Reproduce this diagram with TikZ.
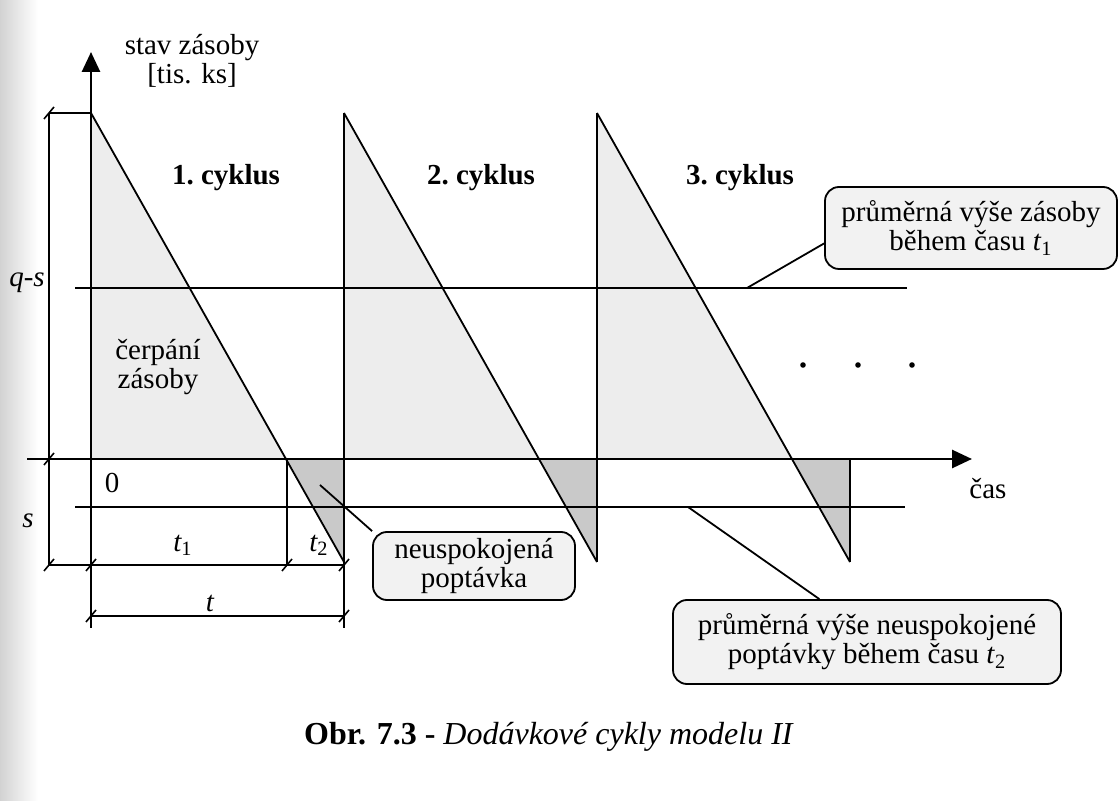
\documentclass[tikz,border=0pt]{standalone}
\usepackage{fontspec}
\setmainfont{Liberation Serif}
\usetikzlibrary{arrows.meta}
\usetikzlibrary{positioning}
\newcommand{\figfont}{\fontsize{14.5}{14.5}\selectfont}
\newcommand{\tightfont}{\fontsize{14.5}{12.5}\selectfont}
\tikzset{x=0.5pt, y=-0.5pt,
    axis/.style={
        line width=1.4pt,
        -{Triangle[length=10pt,width=9pt]}},
    saw/.style={line width=0.9pt},
    guide/.style={line width=0.7pt},
    stockfill/.style={fill=gray!14},
    shortfill/.style={fill=gray!42},
    cycletext/.style={font=\figfont\bfseries},
    plaintext/.style={font=\figfont, inner sep=1pt},
    italictext/.style={font=\figfont\itshape, inner sep=1pt},
    callout/.style={
        draw,
        line width=0.9pt,
        fill=gray!10,
        rounded corners=7pt,
        align=center,
        font=\figfont},
    dimtick/.style={line width=0.8pt}}

\begin{document}
\begin{tikzpicture}
    \useasboundingbox (0,0) rectangle (1120,801);
    % edge of the scanned page
    \shade[left color=gray!35, right color=white] (0,0) rectangle (38,801);

    % shaded areas of the three cycles
    \foreach \x in {91,344,597}{
        \fill[stockfill] (\x,113) -- (\x,459) -- (\x+196,459) -- cycle;
        \fill[shortfill] (\x+196,459) -- (\x+253,459) -- (\x+253,562) -- cycle;
    }

    % levels q-s and s
    \draw[guide] (75,288) -- (907,288);
    \draw[guide] (75,507) -- (905,507);

    % sawtooth
    \foreach \x in {91,344,597}{
        \draw[saw] (\x,113) -- (\x+253,562);
    }
    \draw[saw] (344,113) -- (344,628);
    \draw[saw] (597,113) -- (597,562);
    \draw[saw] (850,459) -- (850,562);

    % dimensions
    \draw[guide] (49,113) -- (91,113);
    \draw[guide] (49,113) -- (49,565);
    \draw[guide] (49,565) -- (344,565);
    \draw[guide] (287,459) -- (287,565);
    \draw[guide] (91,459) -- (91,628);
    \draw[guide] (91,616) -- (344,616);
    \foreach \p in {(49,113),(49,459),(49,565),(91,565),(287,565),(344,565),(91,616),(344,616)}{
        \draw[dimtick] \p ++(-5,6) -- ++(10,-12);
    }

    % axes
    \coordinate (xstart) at (27,459);
    \coordinate (xend) at (972,459);
    \coordinate (ystart) at (91,459);
    \coordinate (yend) at (91,52);
    \draw[axis] (xstart) -- (xend);
    \draw[axis] (ystart) -- (yend);

    % labels
    \node[plaintext, align=center, font=\tightfont] (ylabel) at (192,61) {stav zásoby\\{[}tis. ks{]}};
    \node[plaintext] (xlabel) at (988,489) {čas};
    \node[plaintext] (origin) at (112,483) {0};
    \node[italictext] (qslabel) at (27,283) {q-s};
    \node[italictext] (slabel) at (28,521) {s};
    \node[italictext] (t1label) at (183,545) {t\textsubscript{\upshape 1}};
    \node[italictext] (t2label) at (319,545) {t\textsubscript{\upshape 2}};
    \node[italictext] (tlabel) at (210,603) {t};
    \node[plaintext, align=center, font=\tightfont] (drain) at (158,367) {čerpání\\zásoby};
    \foreach \x [count=\i] in {226,481,740}{
        \node[cycletext] (cycle\i) at (\x,178) {\i.~cyklus};
    }
    \foreach \x in {803,858,912}{
        \fill (\x,365) circle (1.4pt);
    }

    % callouts
    \node[callout, minimum width=146pt, minimum height=41pt] (avgstock) at (971,228)
        {průměrná výše zásoby\\během času~\textit{t}\textsubscript{1}};
    \node[callout, font=\tightfont, minimum width=101pt, minimum height=31pt] (unmet) at (474,566)
        {neuspokojená\\poptávka};
    \node[callout, minimum width=194pt, minimum height=42pt] (avgshort) at (867,642)
        {průměrná výše neuspokojené\\poptávky během času~\textit{t}\textsubscript{2}};
    \coordinate (qsfoot) at (747,288);
    \coordinate (unmetfoot) at (320,485);
    \coordinate (sfoot) at (688,507);
    \draw[saw] (qsfoot) -- (avgstock.186);
    \draw[saw] (unmetfoot) -- (unmet.north west);
    \draw[saw] (sfoot) -- (avgshort.138);

    % caption
    \node[inner sep=1pt, font=\fontsize{16}{18}\selectfont] (caption) at (549,737)
        {\textbf{Obr. 7.3 -} \textit{Dodávkové cykly modelu II}};
\end{tikzpicture}
\end{document}
